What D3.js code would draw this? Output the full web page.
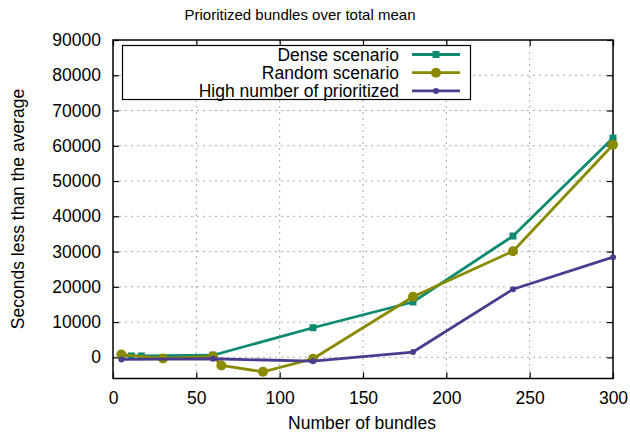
<!DOCTYPE html>
<html>
<head>
<meta charset="utf-8">
<script src="https://cdn.jsdelivr.net/npm/d3@7"></script>
<style>
body{margin:0;background:#fff;}
text{font-family:"Liberation Sans",Arial,sans-serif;fill:#000;}
</style>
</head>
<body>
<svg id="chart" width="630" height="436"></svg>
<script>
const title = "Prioritized bundles over total mean";
const xLabel = "Number of bundles";
const yLabel = "Seconds less than the average";
const xTicks = [0, 50, 100, 150, 200, 250, 300];
const yTicks = [0, 10000, 20000, 30000, 40000, 50000, 60000, 70000, 80000, 90000];
const seriesNames = ["Dense scenario", "Random scenario", "High number of prioritized"];
const seriesColors = ["#0e8a72", "#8a8a00", "#4a3d90"];
const denseX = [5, 11, 17, 60, 120, 180, 240, 300];
const denseY = [500, 400, 400, 600, 8400, 15700, 34400, 62200];
const randomX = [5, 30, 60, 65, 90, 120, 180, 240, 300];
const randomY = [800, -300, 300, -2300, -4100, -400, 17200, 30100, 60300];
const highX = [5, 60, 120, 180, 240, 300];
const highY = [-600, -400, -1100, 1500, 19300, 28400];

const svg = d3.select("#chart");
const m = {l:113, r:613, t:40, b:378.5};
const x = d3.scaleLinear().domain([0,300]).range([m.l, m.r]);
const y = d3.scaleLinear().domain([-6000, 90000]).range([m.b, m.t]);

// grid
const g = svg.append("g");
g.selectAll(".gx").data(xTicks.filter(d=>d>0&&d<300)).enter().append("line")
  .attr("x1",d=>x(d)).attr("x2",d=>x(d)).attr("y1",m.t).attr("y2",m.b)
  .attr("stroke","#aaa").attr("stroke-width",1).attr("stroke-dasharray","2,4");
g.selectAll(".gy").data(yTicks.filter(d=>d<90000)).enter().append("line")
  .attr("x1",m.l).attr("x2",m.r).attr("y1",d=>y(d)).attr("y2",d=>y(d))
  .attr("stroke","#aaa").attr("stroke-width",1).attr("stroke-dasharray","2,4");

// axes (ticks inward)
const ax = svg.append("g");
ax.append("g").attr("transform",`translate(0,${m.b})`)
  .call(d3.axisBottom(x).tickValues(xTicks).tickSizeInner(-6).tickSizeOuter(0).tickPadding(13))
  .call(s=>{s.select(".domain").remove();s.selectAll("text").attr("font-size",17.5).attr("font-family","Liberation Sans, Arial, sans-serif");s.selectAll("line").attr("stroke","#000").attr("stroke-width",1.2);});
ax.append("g").attr("transform",`translate(0,${m.t})`)
  .call(d3.axisTop(x).tickValues(xTicks).tickSizeInner(-6).tickSizeOuter(0).tickFormat(""))
  .call(s=>{s.select(".domain").remove();s.selectAll("line").attr("stroke","#000").attr("stroke-width",1.2);});
ax.append("g").attr("transform",`translate(${m.l},0)`)
  .call(d3.axisLeft(y).tickValues(yTicks).tickSizeInner(-6).tickSizeOuter(0).tickPadding(12).tickFormat(d3.format("d")))
  .call(s=>{s.select(".domain").remove();s.selectAll("text").attr("font-size",17.5).attr("font-family","Liberation Sans, Arial, sans-serif");s.selectAll("line").attr("stroke","#000").attr("stroke-width",1.2);});
ax.append("g").attr("transform",`translate(${m.r},0)`)
  .call(d3.axisRight(y).tickValues(yTicks).tickSizeInner(-6).tickSizeOuter(0).tickFormat(""))
  .call(s=>{s.select(".domain").remove();s.selectAll("line").attr("stroke","#000").attr("stroke-width",1.2);});
svg.append("rect").attr("x",m.l).attr("y",m.t).attr("width",m.r-m.l).attr("height",m.b-m.t)
  .attr("fill","none").attr("stroke","#000").attr("stroke-width",1.5);

// legend box
svg.append("rect").attr("x",122.5).attr("y",45.5).attr("width",348).attr("height",54)
  .attr("fill","#fff").attr("stroke","#000").attr("stroke-width",1.2);

const series = [
  {name:seriesNames[0], color:seriesColors[0], xs:denseX, ys:denseY, shape:"square"},
  {name:seriesNames[1], color:seriesColors[1], xs:randomX, ys:randomY, shape:"circle"},
  {name:seriesNames[2], color:seriesColors[2], xs:highX, ys:highY, shape:"dot"}
];
const line = d3.line().x(d=>x(d[0])).y(d=>y(d[1]));
function marker(sel, shape, color){
  if(shape==="square"){
    sel.append("rect").attr("x",-3.5).attr("y",-3.5).attr("width",7).attr("height",7).attr("fill",color);
  } else if(shape==="circle"){
    sel.append("circle").attr("r",5).attr("fill",color);
  } else {
    sel.append("circle").attr("r",3).attr("fill",color);
  }
}
series.forEach((s,i)=>{
  const pts = s.xs.map((v,j)=>[v,s.ys[j]]);
  svg.append("path").datum(pts).attr("d",line).attr("fill","none")
    .attr("stroke",s.color).attr("stroke-width",2.8).attr("stroke-linejoin","round");
  svg.selectAll(null).data(pts).enter().append("g")
    .attr("transform",d=>`translate(${x(d[0])},${y(d[1])})`)
    .each(function(){marker(d3.select(this), s.shape, s.color);});
  const ly = 54.5 + i*18.2;
  svg.append("text").attr("x",399).attr("y",ly+6.2).attr("text-anchor","end").attr("font-size",17.5).text(s.name);
  svg.append("line").attr("x1",412).attr("x2",460).attr("y1",ly).attr("y2",ly)
    .attr("stroke",s.color).attr("stroke-width",2.8);
  marker(svg.append("g").attr("transform",`translate(436,${ly})`), s.shape, s.color);
});

// titles
svg.append("text").attr("x",300).attr("y",20).attr("text-anchor","middle").attr("font-size",15).text(title);
svg.append("text").attr("x",362).attr("y",429).attr("text-anchor","middle").attr("font-size",17.5).text(xLabel);
svg.append("text").attr("transform",`translate(24,209) rotate(-90)`).attr("text-anchor","middle").attr("font-size",17.5).text(yLabel);
</script>
</body>
</html>
